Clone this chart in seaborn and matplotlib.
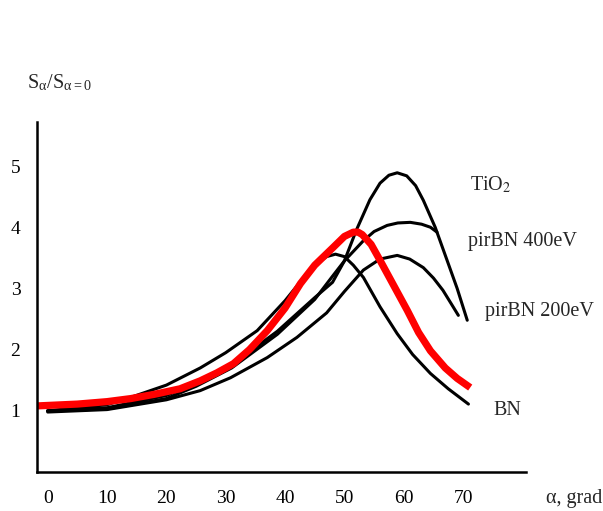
import matplotlib
matplotlib.use("Agg")
import matplotlib.pyplot as plt
import seaborn as sns
import pandas as pd

# ---- data ----
alpha_tio2 = [0, 10, 20, 25, 31, 38.7, 45, 48, 50, 52, 54.3, 56, 57.5, 58.9, 60.5, 62, 63.3, 65.3, 67.3, 69, 70.7]
val_tio2 = [1.0, 1.05, 1.25, 1.45, 1.75, 2.3, 2.85, 3.1, 3.45, 3.95, 4.45, 4.72, 4.85, 4.89, 4.84, 4.68, 4.44, 4.0, 3.46, 3.0, 2.48]

alpha_bn400 = [0, 10, 20, 25, 31, 38.7, 45, 48, 50, 53.2, 55, 57.2, 59, 61.1, 63, 64.5, 65.6]
val_bn400 = [1.0, 1.03, 1.2, 1.4, 1.7, 2.25, 2.82, 3.2, 3.45, 3.78, 3.93, 4.03, 4.07, 4.08, 4.05, 4.0, 3.92]

alpha_bn200 = [0, 10, 20, 25.7, 30.8, 37, 42, 47, 50, 53.2, 56, 58.9, 61, 63.3, 65, 66.6, 68, 69.2]
val_bn200 = [0.98, 1.02, 1.18, 1.33, 1.54, 1.87, 2.2, 2.6, 2.95, 3.3, 3.48, 3.54, 3.48, 3.34, 3.17, 2.97, 2.75, 2.56]

alpha_bn = [0, 10, 14, 20, 25.7, 30, 35.3, 40, 42.5, 45, 47, 48.5, 50, 51.5, 53.2, 56, 58.9, 61.5, 64.5, 67.5, 70.9]
val_bn = [1.0, 1.1, 1.22, 1.42, 1.7, 1.95, 2.31, 2.8, 3.1, 3.38, 3.52, 3.56, 3.52, 3.38, 3.18, 2.7, 2.26, 1.92, 1.61, 1.36, 1.11]

alpha_red = [-1.8, 5, 10, 14, 18, 22.3, 25.7, 28.5, 31.3, 34, 37, 40, 42.6, 45, 48.1, 50, 51.5, 52.3, 53, 54.5, 56, 58.3, 60.6, 62.5, 64.5, 67, 69, 71.2]
val_red = [1.08, 1.11, 1.15, 1.2, 1.27, 1.36, 1.49, 1.62, 1.77, 2.0, 2.31, 2.68, 3.08, 3.38, 3.67, 3.85, 3.92, 3.92, 3.88, 3.72, 3.46, 3.05, 2.64, 2.28, 1.98, 1.7, 1.53, 1.38]

series_names = ["TiO$_2$", "pirBN 400eV", "pirBN 200eV", "BN"]
x_ticks = [0, 10, 20, 30, 40, 50, 60, 70]
y_ticks = [1, 2, 3, 4, 5]

# ---- build frame ----
frames = []
for name, a, v in [("TiO2", alpha_tio2, val_tio2), ("pirBN400", alpha_bn400, val_bn400),
                   ("pirBN200", alpha_bn200, val_bn200), ("BN", alpha_bn, val_bn),
                   ("red", alpha_red, val_red)]:
    frames.append(pd.DataFrame({"alpha": a, "S": v, "series": name}))
df = pd.concat(frames, ignore_index=True)

sns.set_style("white")
plt.rcParams["font.family"] = ["Liberation Serif", "DejaVu Serif"]
plt.rcParams["mathtext.fontset"] = "stix"

fig = plt.figure(figsize=(6.03, 5.11), dpi=100)
ax = fig.add_axes([37 / 603, 1 - 472 / 511, (526 - 37) / 603, (472 - 122) / 511])

black = df[df.series != "red"]
sns.lineplot(data=black, x="alpha", y="S", units="series", estimator=None, sort=False,
             color="black", lw=2.2, ax=ax, legend=False,
             solid_capstyle="round", solid_joinstyle="round")
sns.lineplot(data=df[df.series == "red"], x="alpha", y="S", estimator=None, sort=False,
             color="#ff0000", lw=5.2, ax=ax, legend=False,
             solid_capstyle="butt", solid_joinstyle="round")

ax.set_xlim(-1.8, 80.6)
ax.set_ylim(0, 5.72)
for s in ["top", "right"]:
    ax.spines[s].set_visible(False)
for s in ["left", "bottom"]:
    ax.spines[s].set_color("black")
    ax.spines[s].set_linewidth(1.8)

ax.set_xticks(x_ticks)
ax.set_xticklabels([str(t) for t in x_ticks])
ax.set_yticks(y_ticks)
ax.set_yticklabels([str(t) for t in y_ticks])
ax.tick_params(axis="x", direction="in", length=5, width=1.8, pad=13, labelsize=14, colors="black")
ax.tick_params(axis="y", direction="in", length=6, width=1.8, pad=12, labelsize=14, colors="black")
ax.xaxis.get_major_ticks()[0].tick1line.set_visible(False)
ax.set_xlabel("")
ax.set_ylabel("")

# series labels
ax.text(71.2, 4.69, series_names[0], fontsize=14.5, va="center", ha="left")
ax.text(70.9, 3.77, series_names[1], fontsize=14.5, va="center", ha="left")
ax.text(73.7, 2.62, series_names[2], fontsize=14.5, va="center", ha="left")
ax.text(75.1, 1.0, series_names[3], fontsize=14.5, va="center", ha="left")
ax.text(83.9, -0.43, "α, grad", fontsize=14.5, va="center", ha="left", clip_on=False)

fig.text(27 / 603, 1 - 83 / 511, r"S$_\mathregular{α}$/S$_\mathregular{α=0}$", fontsize=14.5,
         va="center", ha="left")

fig.savefig("out.png", dpi=100, facecolor="white")
